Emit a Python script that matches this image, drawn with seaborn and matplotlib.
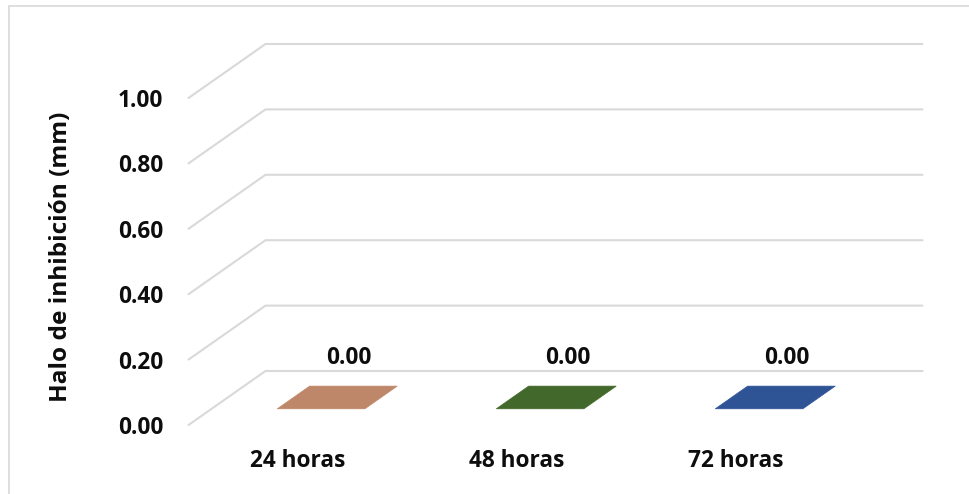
import matplotlib
matplotlib.use("Agg")
import matplotlib.pyplot as plt
from matplotlib.patches import Polygon, Rectangle
from matplotlib.transforms import Affine2D
import seaborn as sns
import pandas as pd

# Data
categories = ["24 horas", "48 horas", "72 horas"]
values = [0.00, 0.00, 0.00]
bar_colors = ["#BE8769", "#43682B", "#2F5496"]
y_ticks = [0.0, 0.2, 0.4, 0.6, 0.8, 1.0]
y_tick_labels = ["0.00", "0.20", "0.40", "0.60", "0.80", "1.00"]
y_title = "Halo de inhibición (mm)"

sns.set_theme(style="white")
plt.rcParams["font.family"] = ["Open Sans", "DejaVu Sans"]
plt.rcParams["font.weight"] = "bold"

FS = 16.3
TXT = "#0D0D0D"

W, H = 969, 494
fig = plt.figure(figsize=(W / 100, H / 100), dpi=100)

# oblique depth vector (data units) and bar depth band
DX, DY = 77 / 219, 54 / 327
D0, D1 = 0.30, 0.72
HALF = 0.2

left_px, right_px, top_px, bot_px = 188.5, 922.5, 44, 425
ax = fig.add_axes([left_px / W, (H - bot_px) / H,
                   (right_px - left_px) / W, (bot_px - top_px) / H])

df = pd.DataFrame({"cat": categories, "val": values})
sns.barplot(data=df, x="cat", y="val", hue="cat", palette=bar_colors,
            width=2 * HALF, legend=False, ax=ax, saturation=1)

# shift the front faces back to the bar's depth position
shift = Affine2D().translate(DX * D0, DY * D0) + ax.transData
for p in ax.patches:
    p.set_transform(shift)
    p.set_clip_on(False)

ax.set_xlim(-0.5, 2.5 + DX)
ax.set_ylim(0, 1 + DY)

grid_c = "#D9D9D9"
x_lo, x_hi = -0.5, 2.5
for v in y_ticks:
    ax.plot([x_lo, x_lo + DX, x_hi + DX], [v, v + DY, v + DY],
            color=grid_c, lw=1.5, clip_on=False, zorder=0.5)

# top faces and value labels
for i, (v, c) in enumerate(zip(values, bar_colors)):
    pts = [(i - HALF + DX * D0, v + DY * D0), (i + HALF + DX * D0, v + DY * D0),
           (i + HALF + DX * D1, v + DY * D1), (i - HALF + DX * D1, v + DY * D1)]
    ax.add_patch(Polygon(pts, closed=True, facecolor=c, edgecolor=c,
                         lw=0.5, clip_on=False, zorder=3))
    ax.annotate(f"{v:.2f}", xy=(i + DX * D1, v + DY * D1),
                xytext=(-3.6, 20.5), textcoords="offset points",
                ha="center", va="center", fontsize=FS, fontweight="bold",
                color=TXT, annotation_clip=False)

ax.set_xticks(range(len(categories)))
ax.set_xticklabels(categories, fontsize=FS, fontweight="bold", color=TXT)
ax.set_yticks(y_ticks)
ax.set_yticklabels(y_tick_labels, fontsize=FS, fontweight="bold", color=TXT)
ax.tick_params(axis="x", length=0, pad=17.5)
ax.tick_params(axis="y", length=0, pad=18)
ax.set_xlabel("")
ax.set_ylabel("")
for s in ax.spines.values():
    s.set_visible(False)
ax.set_facecolor("none")

fig.text(61 / W, 1 - 257 / H, y_title, rotation=90, ha="center", va="center",
         fontsize=17.6, fontweight="bold", color=TXT)

# chart area border
fig.patches.append(Rectangle((8.5 / W, -0.05), 1.2, 1.05 - 6.5 / H,
                             transform=fig.transFigure, fill=False,
                             edgecolor="#D9D9D9", lw=1.2))

fig.savefig("out.png", dpi=100, facecolor="white")
